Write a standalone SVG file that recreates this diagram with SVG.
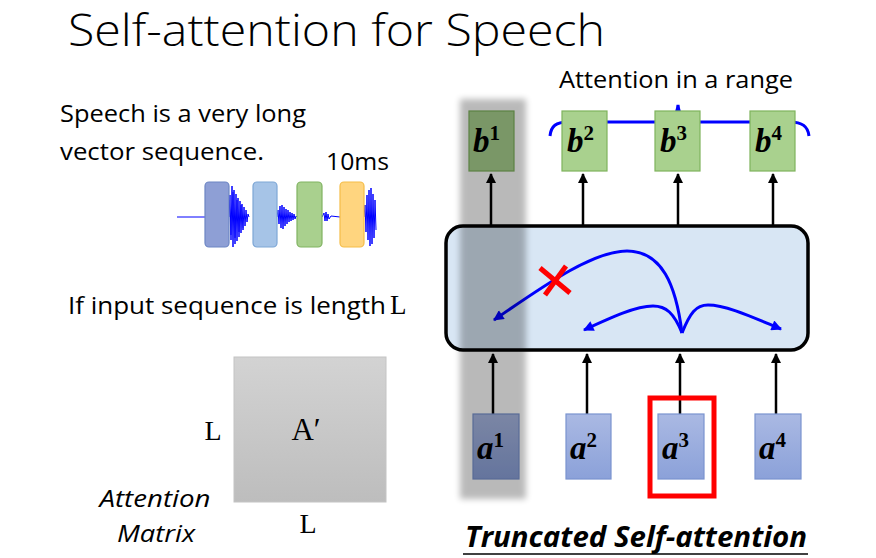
<svg xmlns="http://www.w3.org/2000/svg" width="876" height="558" viewBox="0 0 876 558">
<style>
.sans{font-family:"Open Sans","Liberation Sans",sans-serif;fill:#000}
.serif{font-family:"Liberation Serif","DejaVu Serif",serif;fill:#000}
.lbl{font-family:"Liberation Serif","DejaVu Serif",serif;font-weight:bold;font-style:italic;font-size:33px;fill:#000}
.sup{font-size:21px;font-style:normal}
.bbox{fill:#a9d18e;stroke:#7fb35c;stroke-width:1.2}
.abox{fill:url(#ag);stroke:#7a93cf;stroke-width:1.2}
.arr{stroke:#000;stroke-width:2.5;fill:none;marker-end:url(#ah)}
.blue{stroke:#0000ff;stroke-width:3;fill:none}
.barr{stroke:#0000ff;stroke-width:3;fill:none;marker-end:url(#bh)}
.wave{stroke:#0000ff;stroke-width:1;fill:none}
</style>
<defs>
<marker id="ah" viewBox="0 0 10 10" refX="9" refY="5" markerWidth="4" markerHeight="4" orient="auto" markerUnits="strokeWidth"><path d="M0,0 L10,5 L0,10 z" fill="#000"/></marker>
<marker id="bh" viewBox="0 0 10 10" refX="9" refY="5" markerWidth="4" markerHeight="3.5" orient="auto" markerUnits="strokeWidth"><path d="M0,0 L10,5 L0,10 z" fill="#0000ff"/></marker>
<linearGradient id="ag" x1="0" y1="0" x2="0" y2="1"><stop offset="0" stop-color="#aab9e3"/><stop offset="1" stop-color="#8ba1d9"/></linearGradient>
<linearGradient id="mg" x1="0" y1="0" x2="0" y2="1"><stop offset="0" stop-color="#d3d3d3"/><stop offset="1" stop-color="#bdbdbd"/></linearGradient>
<filter id="blur" x="-20%" y="-5%" width="140%" height="110%"><feGaussianBlur stdDeviation="3"/></filter>
</defs>
<rect width="876" height="558" fill="#fff"/>

<text class="sans" x="68" y="46" font-size="44" font-weight="300" textLength="537" lengthAdjust="spacingAndGlyphs">Self-attention for Speech</text>

<g id="speech-text">
<text class="sans" x="60" y="122" font-size="24" textLength="246" lengthAdjust="spacingAndGlyphs">Speech is a very long</text>
<text class="sans" x="60" y="160" font-size="24" textLength="204" lengthAdjust="spacingAndGlyphs">vector sequence.</text>
<text class="sans" x="326" y="170" font-size="24" textLength="63" lengthAdjust="spacingAndGlyphs">10ms</text>
</g>

<g id="waveform">
<line x1="177" y1="217" x2="205" y2="217" class="wave"/>
<path class="wave" d="M229,217 L230,195 L231,240 L232,186 L233,247 L234,190 L235,244 L236,194 L237,241 L238,198 L239,237 L240,201 L241,233 L242,204 L243,230 L244,207 L245,226 L246,210 L247,222 L248,214 L249,217"/>
<path class="wave" d="M228,217 L229,200 L231,235 L233,192 L235,238 L237,200 L239,232 L241,205 L243,228" stroke-opacity="0.6"/>
<path class="wave" d="M277,217 L278,210 L279,224 L280,206 L281,228 L282,205 L283,229 L284,207 L285,226 L286,209 L287,224 L288,210 L289,222 L290,212 L291,221 L292,213 L293,220 L294,214 L295,219 L296,216 L297,217"/>
<path class="wave" d="M322,217 L324,213 L325,221 L326,212 L327,221 L328,214 L329,219 L331,216 L340,217"/>
<path class="wave" d="M364,217 L365,205 L366,232 L367,195 L368,240 L369,190 L370,246 L371,188 L372,244 L373,194 L374,238 L375,200 L376,230"/>
<rect id="blk1" x="205" y="182" width="24" height="65" rx="4" fill="#8e9fd5" stroke="#6d86c4" stroke-width="1.2"/>
<rect id="blk2" x="253" y="182" width="24" height="65" rx="4" fill="#a6c4e7" stroke="#7ea7d6" stroke-width="1.2"/>
<rect id="blk3" x="297" y="182" width="25" height="65" rx="4" fill="#a9d08e" stroke="#80b361" stroke-width="1.2"/>
<rect id="blk4" x="340" y="182" width="24" height="65" rx="4" fill="#ffd57f" stroke="#f5bd48" stroke-width="1.2"/>
</g>

<g id="length-text">
<text class="sans" x="68" y="314" font-size="24" textLength="318" lengthAdjust="spacingAndGlyphs">If input sequence is length</text>
<text class="serif" x="390" y="314" font-size="27">L</text>
</g>

<g id="matrix">
<rect x="234" y="357" width="152" height="145" fill="url(#mg)" stroke="#c4c4c4" stroke-width="1"/>
<text class="serif" x="306" y="440" font-size="31" text-anchor="middle">A′</text>
<text class="serif" x="213" y="440" font-size="28" text-anchor="middle">L</text>
<text class="serif" x="308" y="533" font-size="28" text-anchor="middle">L</text>
<text class="sans" x="155" y="507" font-size="24" font-style="italic" text-anchor="middle" textLength="111" lengthAdjust="spacingAndGlyphs">Attention</text>
<text class="sans" x="156" y="542" font-size="24" font-style="italic" text-anchor="middle" textLength="78" lengthAdjust="spacingAndGlyphs">Matrix</text>
</g>

<g id="range-label">
<text class="sans" x="676" y="88" font-size="24" text-anchor="middle" textLength="234" lengthAdjust="spacingAndGlyphs">Attention in a range</text>
<path class="blue" d="M550,136 C551,126 556,122 568,122 L660,122 C672,122 677,116 678,105 C679,116 684,122 696,122 L790,122 C802,122 808,126 809,136"/>
</g>

<g id="connectors">
<line class="arr" x1="491" y1="228" x2="491" y2="174"/>
<line class="arr" x1="583" y1="228" x2="583" y2="174"/>
<line class="arr" x1="678" y1="228" x2="678" y2="174"/>
<line class="arr" x1="773" y1="228" x2="773" y2="174"/>
<line class="arr" x1="493" y1="414" x2="493" y2="354"/>
<line class="arr" x1="587" y1="414" x2="587" y2="354"/>
<line class="arr" x1="680" y1="414" x2="680" y2="354"/>
<line class="arr" x1="776" y1="414" x2="776" y2="354"/>
</g>

<g id="self-attention-box">
<rect x="446" y="226" width="362" height="124" rx="17" fill="#d8e6f4" stroke="#000" stroke-width="3.5"/>
<path class="barr" d="M682,333 C676,285 662,251 627,251 C593,251 545,285 494,320"/>
<path class="barr" d="M682,333 C674,313 666,306 653,306 C636,306 612,317 584,330"/>
<path class="barr" d="M682,333 C690,313 696,305 708,305 C726,305 752,317 781,329"/>
<g stroke="#ff0000" stroke-width="5" stroke-linecap="butt">
<line x1="540" y1="268" x2="570" y2="293"/>
<line x1="566" y1="266" x2="545" y2="295"/>
</g>
</g>

<g id="b1"><rect class="bbox" x="469" y="111" width="45" height="60"/><text class="lbl" x="473" y="152">b<tspan class="sup" dy="-12">1</tspan></text></g>
<g id="b2"><rect class="bbox" x="562" y="111" width="45" height="60"/><text class="lbl" x="567" y="152">b<tspan class="sup" dy="-12">2</tspan></text></g>
<g id="b3"><rect class="bbox" x="655" y="111" width="45" height="60"/><text class="lbl" x="660" y="152">b<tspan class="sup" dy="-12">3</tspan></text></g>
<g id="b4"><rect class="bbox" x="750" y="111" width="45" height="60"/><text class="lbl" x="755" y="152">b<tspan class="sup" dy="-12">4</tspan></text></g>

<g id="a1"><rect class="abox" x="473" y="414" width="46" height="65"/><text class="lbl" x="477" y="459">a<tspan class="sup" dy="-12">1</tspan></text></g>
<g id="a2"><rect class="abox" x="566" y="414" width="45" height="65"/><text class="lbl" x="570" y="459">a<tspan class="sup" dy="-12">2</tspan></text></g>
<g id="a3"><rect class="abox" x="658" y="414" width="46" height="65"/><text class="lbl" x="662" y="459">a<tspan class="sup" dy="-12">3</tspan></text></g>
<g id="a4"><rect class="abox" x="755" y="414" width="46" height="65"/><text class="lbl" x="759" y="459">a<tspan class="sup" dy="-12">4</tspan></text></g>

<rect id="highlight" x="650" y="398" width="64" height="98" fill="none" stroke="#ff0000" stroke-width="5"/>

<rect id="mask-column" x="460" y="99" width="66" height="400" fill="#000" opacity="0.27" filter="url(#blur)"/>

<g id="caption">
<text class="sans" x="636" y="547" font-size="28" font-weight="bold" font-style="italic" text-anchor="middle" textLength="342" lengthAdjust="spacingAndGlyphs">Truncated Self-attention</text>
<line x1="463" y1="554" x2="808" y2="554" stroke="#000" stroke-width="1.5"/>
</g>
</svg>
